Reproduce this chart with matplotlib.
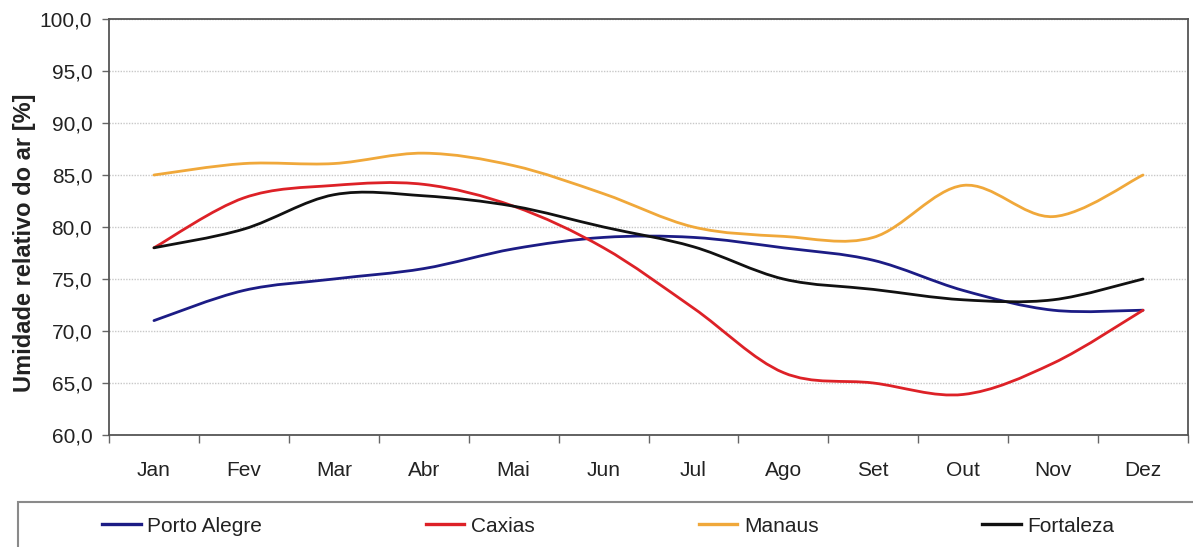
import numpy as np
import matplotlib
matplotlib.use("Agg")
import matplotlib.pyplot as plt
from matplotlib.path import Path
from matplotlib.patches import PathPatch, Rectangle
from matplotlib.lines import Line2D

plt.rcParams['font.family'] = ['Liberation Sans', 'DejaVu Sans']

# --- monthly relative humidity (%) ---
months = ["Jan", "Fev", "Mar", "Abr", "Mai", "Jun", "Jul", "Ago", "Set", "Out", "Nov", "Dez"]
porto_alegre = [71.0, 73.9, 75.0, 76.0, 77.9, 79.0, 79.0, 78.0, 76.8, 73.9, 72.0, 72.0]
caxias = [78.0, 82.8, 84.0, 84.1, 82.0, 78.0, 72.2, 66.0, 65.0, 63.9, 66.9, 72.0]
manaus = [85.0, 86.1, 86.1, 87.1, 85.9, 83.2, 80.0, 79.1, 79.0, 84.0, 81.0, 85.0]
fortaleza = [78.0, 79.8, 83.1, 83.0, 82.0, 80.0, 78.1, 75.0, 74.0, 73.0, 73.0, 75.0]

series = [
    ("Porto Alegre", porto_alegre, "#1c1c85"),
    ("Caxias", caxias, "#dd2127"),
    ("Manaus", manaus, "#f0a83a"),
    ("Fortaleza", fortaleza, "#111111"),
]


def smooth_path(x, y):
    # smoothed line through the points as cubic Bezier segments (Catmull-Rom style)
    p = np.column_stack([x, y]).astype(float)
    ext = np.vstack([p[0], p, p[-1]])
    verts = [p[0]]
    codes = [Path.MOVETO]
    for i in range(len(p) - 1):
        p0, p1, p2, p3 = ext[i], ext[i + 1], ext[i + 2], ext[i + 3]
        c1 = p1 + (p2 - p0) / 6.0
        c2 = p2 - (p3 - p1) / 6.0
        verts += [c1, c2, p2]
        codes += [Path.CURVE4] * 3
    return Path(verts, codes)


fig = plt.figure(figsize=(11.93, 5.47), dpi=100)
ax = fig.add_axes([109 / 1193, 1 - 435 / 547, (1188 - 109) / 1193, (435 - 19) / 547])

xpos = np.arange(len(months))
handles = []
for name, vals, col in series:
    patch = PathPatch(smooth_path(xpos, vals), facecolor="none", edgecolor=col,
                      lw=2.0, capstyle="round", joinstyle="round", zorder=3)
    ax.add_patch(patch)
    handles.append(Line2D([], [], color=col, lw=2.4, label=name))

ax.set_xlim(-0.5, len(months) - 0.5)
ax.set_ylim(60, 100)

# y axis
yticks = np.arange(60, 101, 5)
ax.set_yticks(yticks)
ax.set_yticklabels([f"{v:.1f}".replace(".", ",") for v in yticks])
ax.yaxis.grid(True, linestyle=(0, (1, 1)), color="#c8c8c8", lw=1.0)
ax.set_axisbelow(True)
ax.tick_params(axis="y", direction="out", length=5, width=1, color="#666666",
               labelsize=15, labelcolor="#222222", pad=7)
ax.set_ylabel("Umidade relativo do ar [%]", fontsize=17, fontweight="bold",
              color="#222222", labelpad=3)
ax.yaxis.label.set_y(0.462)

# x axis: labels at category centres, ticks at boundaries
ax.set_xticks(xpos)
ax.set_xticklabels(months)
ax.set_xticks(np.arange(-0.5, len(months)), minor=True)
ax.tick_params(axis="x", which="major", length=0, labelsize=15,
               labelcolor="#222222", pad=19)
ax.tick_params(axis="x", which="minor", direction="out", length=6, width=1,
               color="#666666")

for s in ax.spines.values():
    s.set_color("#555555")
    s.set_linewidth(1.3)

# legend box along the bottom
fig.patches.append(Rectangle((18 / 1193, -0.05), 1.1, 1 - 502 / 547 + 0.05,
                             transform=fig.transFigure, facecolor="white",
                             edgecolor="#8a8a8a", lw=1.5, zorder=0))
fig.legend(handles=handles, loc="center left",
           bbox_to_anchor=(102 / 1193, 1 - 526 / 547), ncol=4, frameon=False,
           fontsize=15, handlelength=1.85, handletextpad=0.33, columnspacing=7.85,
           borderpad=0, borderaxespad=0, labelcolor="#222222")

fig.savefig("out.png", dpi=100)
